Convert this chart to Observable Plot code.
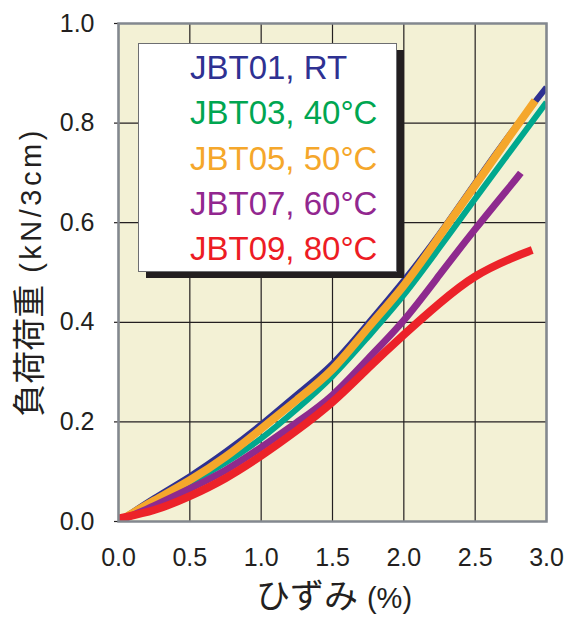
<!DOCTYPE html>
<html>
<head>
<meta charset="utf-8">
<script src="https://cdn.jsdelivr.net/npm/d3@7"></script>
<script src="https://cdn.jsdelivr.net/npm/@observablehq/plot@0.6"></script>
<style>
  html, body { margin: 0; padding: 0; background: #ffffff; }
  #chart { position: relative; width: 566px; height: 618px; }
</style>
</head>
<body>
<div id="chart"></div>
<script>
// ---- data ----
const seriesNames = ["JBT01, RT", "JBT03, 40°C", "JBT05, 50°C", "JBT07, 60°C", "JBT09, 80°C"];
const seriesColors = ["#2e3192", "#00a88e", "#f5a72b", "#8e2a8e", "#ec2229"];
const legendColors = ["#2e3192", "#00a651", "#f5a72b", "#92278f", "#ed1c24"];

const jbt01Strain = [0, 0.25, 0.5, 0.75, 1.0, 1.25, 1.5, 1.75, 2.0, 2.25, 2.5, 2.75, 3.0];
const jbt01Load   = [0, 0.047, 0.091, 0.14, 0.195, 0.255, 0.317, 0.398, 0.484, 0.578, 0.68, 0.78, 0.872];

const jbt03Strain = [0, 0.25, 0.5, 0.75, 1.0, 1.25, 1.5, 1.75, 2.0, 2.25, 2.5, 2.75, 3.0];
const jbt03Load   = [0, 0.038, 0.077, 0.118, 0.167, 0.226, 0.292, 0.371, 0.455, 0.55, 0.648, 0.745, 0.842];

const jbt05Strain = [0, 0.25, 0.5, 0.75, 1.0, 1.25, 1.5, 1.75, 2.0, 2.25, 2.5, 2.75, 2.92];
const jbt05Load   = [0, 0.042, 0.083, 0.13, 0.186, 0.244, 0.306, 0.389, 0.474, 0.573, 0.675, 0.777, 0.845];

const jbt07Strain = [0, 0.25, 0.5, 0.75, 1.0, 1.25, 1.5, 1.75, 2.0, 2.25, 2.5, 2.75, 2.82];
const jbt07Load   = [0, 0.032, 0.066, 0.103, 0.149, 0.199, 0.254, 0.327, 0.404, 0.495, 0.587, 0.675, 0.70];

const jbt09Strain = [0, 0.25, 0.5, 0.75, 1.0, 1.25, 1.5, 1.75, 2.0, 2.25, 2.5, 2.75, 2.9];
const jbt09Load   = [0.006, 0.023, 0.051, 0.087, 0.132, 0.183, 0.24, 0.308, 0.375, 0.438, 0.492, 0.528, 0.545];

const xTicks = [0, 0.5, 1.0, 1.5, 2.0, 2.5, 3.0];
const yTicks = [0, 0.2, 0.4, 0.6, 0.8, 1.0];
const xTitle = "ひずみ";
const xUnit = "(%)";
const yTitle = "負荷荷重";
const yUnit = "(kN/3cm)";

// ---- build table ----
const strains = [jbt01Strain, jbt03Strain, jbt05Strain, jbt07Strain, jbt09Strain];
const loads = [jbt01Load, jbt03Load, jbt05Load, jbt07Load, jbt09Load];
const widths = [6, 6, 8, 7, 8];
const rows = [];
seriesNames.forEach((name, i) => {
  strains[i].forEach((s, j) => rows.push({series: name, strain: s, load: loads[i][j]}));
});

const lineMarks = seriesNames.map((name, i) =>
  Plot.line(rows.filter(d => d.series === name), {
    x: "strain", y: "load", stroke: "series",
    strokeWidth: widths[i], curve: "natural", clip: true,
    strokeLinejoin: "round", strokeLinecap: "butt"
  })
);

const chart = Plot.plot({
  width: 566,
  height: 618,
  marginLeft: 118,
  marginRight: 20,
  marginTop: 23,
  marginBottom: 97,
  style: {background: "#ffffff", fontFamily: "'Liberation Sans', Arial, sans-serif", fontSize: "25px", color: "#231f20"},
  x: {domain: [0, 3], label: null},
  y: {domain: [0, 1], label: null},
  color: {domain: seriesNames, range: seriesColors},
  marks: [
    Plot.frame({fill: "#f3f1d5", stroke: null}),
    Plot.gridX(xTicks, {stroke: "#231f20", strokeOpacity: 1, strokeWidth: 1.2}),
    Plot.gridY(yTicks, {stroke: "#231f20", strokeOpacity: 1, strokeWidth: 1.2}),
    Plot.axisX(xTicks, {tickSize: 0, tickPadding: 27, tickFormat: d => d.toFixed(1), label: null, fontSize: 25}),
    Plot.axisY(yTicks, {tickSize: 4, tickPadding: 20, tickFormat: d => d.toFixed(1), label: null, fontSize: 25, strokeWidth: 1.2}),
    ...lineMarks,
    Plot.frame({stroke: "#83888f", strokeWidth: 2.5})
  ]
});

document.getElementById("chart").appendChild(chart);

// ---- titles and legend box ----
const svg = d3.select(chart);
const cjk = "'Noto Sans CJK JP', sans-serif";
const latin = "'Liberation Sans', Arial, sans-serif";

// lay out pieces of a title on one line, centred on 0, inside group g
function layoutPieces(g, pieces) {
  const nodes = pieces.map(p => g.append("text")
    .attr("text-anchor", "start")
    .attr("fill", "#231f20")
    .attr("font-family", p.font)
    .attr("font-size", p.size)
    .attr("letter-spacing", p.spacing || 0)
    .attr("y", p.dy || 0)
    .text(p.text));
  const ws = nodes.map(n => n.node().getComputedTextLength());
  const gaps = pieces.map(p => p.gap || 0);
  const total = ws.reduce((a, b) => a + b, 0) + gaps.reduce((a, b) => a + b, 0);
  let x = -total / 2;
  nodes.forEach((n, i) => { x += gaps[i]; n.attr("x", x); x += ws[i]; });
}

const yg = svg.append("g").attr("transform", "translate(41,272) rotate(-90)");
layoutPieces(yg, [
  {text: yTitle, font: cjk, size: 33},
  {text: yUnit, font: latin, size: 29, gap: 12, spacing: 3.5}
]);

const xg = svg.append("g").attr("transform", "translate(334,608)");
layoutPieces(xg, [
  {text: xTitle, font: cjk, size: 34},
  {text: xUnit, font: latin, size: 29, gap: 9}
]);

const lg = svg.append("g").attr("text-anchor", "start");
lg.append("rect").attr("x", 146).attr("y", 50).attr("width", 258).attr("height", 228).attr("fill", "#231f20");
lg.append("rect").attr("x", 138.5).attr("y", 43.5).attr("width", 258).attr("height", 228)
  .attr("fill", "#ffffff").attr("stroke", "#6d6e71").attr("stroke-width", 1);
seriesNames.forEach((name, i) => {
  lg.append("text")
    .attr("x", 190).attr("y", 79 + i * 45.3)
    .attr("text-anchor", "start")
    .attr("font-family", latin)
    .attr("font-size", 33)
    .attr("fill", legendColors[i])
    .text(name);
});
</script>
</body>
</html>
